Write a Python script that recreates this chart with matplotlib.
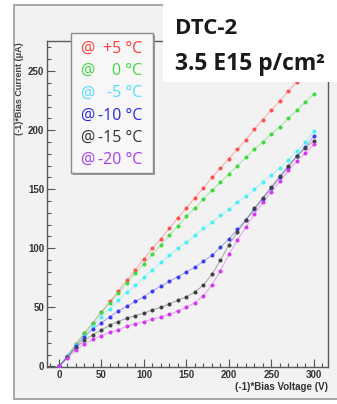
import numpy as np
import matplotlib
matplotlib.use("Agg")
import matplotlib.pyplot as plt
from matplotlib.patches import Rectangle
from matplotlib.ticker import MultipleLocator

# ----------------------------------------------------------------
# Data : (-1)*bias current (uA) vs (-1)*bias voltage (V)
# ----------------------------------------------------------------
voltage = list(range(0, 301, 10))

i_p5 = [0, 9, 19, 28, 37, 46, 55, 64, 73, 82, 91, 100, 108, 117, 126, 134,
        143, 151, 160, 168, 176, 184, 192, 201, 209, 217, 225, 233, 241, 249, 257]
i_0 = [0, 9, 19, 28, 37, 46, 54, 62, 71, 79, 87, 95, 103, 111, 119, 127,
       134, 142, 149, 156, 163, 170, 177, 184, 190, 197, 203, 210, 217, 224, 231]
i_m5 = [0, 9, 18, 26, 34, 42, 49, 56, 63, 69, 76, 82, 88, 94, 100, 105,
        111, 117, 122, 128, 133, 139, 144, 150, 156, 162, 168, 175, 182, 190, 199]
i_m10 = [0, 8, 17, 25, 32, 37, 42, 47, 51, 55, 59, 64, 68, 72, 76, 80,
         84, 89, 94, 101, 108, 116, 124, 133, 142, 151, 160, 169, 178, 186, 195]
i_m15 = [0, 8, 16, 22, 27, 31, 35, 38, 41, 43, 45, 48, 50, 53, 56, 59,
         63, 69, 78, 90, 103, 114, 124, 134, 143, 152, 161, 170, 178, 185, 191]
i_m20 = [0, 7, 14, 19, 23, 26, 29, 31, 34, 36, 38, 40, 42, 44, 47, 50,
         54, 60, 69, 81, 95, 107, 118, 129, 139, 148, 157, 166, 174, 181, 188]

series = [i_p5, i_0, i_m5, i_m10, i_m15, i_m20]
temps = ["+5 °C", "0 °C", "-5 °C", "-10 °C", "-15 °C", "-20 °C"]
line_colors = ["#ff5050", "#40d840", "#48f0f8", "#3c3cf0", "#404040", "#d438f0"]
text_colors = ["#ff3b3b", "#3fd93f", "#55dcff", "#2b2bd8", "#333333", "#a83ee8"]

W, H = 337, 404


def fx(x):
    return x / W


def fy(y):
    return 1 - y / H


fig = plt.figure(figsize=(W / 100, H / 100), dpi=100)
fig.patch.set_facecolor("white")

# outer canvas frame
fig.patches.append(Rectangle((fx(14), fy(399)), fx(345) - fx(14), fy(5) - fy(399),
                             transform=fig.transFigure, facecolor="#f2f2f2",
                             edgecolor="#9a9a9a", lw=1.2, zorder=-5))

ax = fig.add_axes([fx(47), fy(367), fx(328) - fx(47), fy(41) - fy(367)])
ax.set_facecolor("#f2f2f2")

for values, color in zip(series, line_colors):
    ax.plot(voltage, values, color=color, lw=0.7, alpha=0.45, zorder=2)
    ax.plot(voltage, values, ls="none", marker="o", ms=1.9, color=color,
            mec=color, zorder=3)

ax.set_xlim(-14.1, 316.5)
ax.set_ylim(-0.5, 275.5)
ax.xaxis.set_major_locator(MultipleLocator(50))
ax.xaxis.set_minor_locator(MultipleLocator(10))
ax.yaxis.set_major_locator(MultipleLocator(50))
ax.yaxis.set_minor_locator(MultipleLocator(10))
ax.tick_params(which="both", direction="in", color="#555555", width=0.8,
               labelsize=7, labelcolor="#333333", pad=2)
ax.tick_params(which="major", length=6)
ax.tick_params(which="minor", length=3)
for lab in ax.get_xticklabels() + ax.get_yticklabels():
    lab.set_fontweight("bold")
    lab.set_family("Liberation Sans")
for side in ["left", "bottom", "top", "right"]:
    ax.spines[side].set_color("#5a5a5a")
    ax.spines[side].set_linewidth(1.0)

fig.text(fx(328), fy(387), "(-1)*Bias Voltage (V)", ha="right", va="center",
         fontsize=7, fontweight="bold", family="Liberation Sans", color="#333333")
fig.text(fx(20), fy(42), "(-1)*Bias Current (μA)", ha="center", va="top",
         rotation=90, fontsize=6.5, fontweight="bold", family="Liberation Sans",
         color="#444444")

# legend box with shadow
fig.patches.append(Rectangle((fx(73), fy(175)), fx(153) - fx(71), fy(33) - fy(173),
                             transform=fig.transFigure, facecolor="#9a9a9a",
                             edgecolor="none", zorder=4))
fig.patches.append(Rectangle((fx(71), fy(173)), fx(153) - fx(71), fy(33) - fy(173),
                             transform=fig.transFigure, facecolor="#f7f7f7",
                             edgecolor="#8a8a8a", lw=1.0, zorder=5))
for k, (temp, color) in enumerate(zip(temps, text_colors)):
    yc = 49 + k * 22.2
    fig.text(fx(80), fy(yc), "@", ha="left", va="center", fontsize=11.5,
             color=color, family="Open Sans", zorder=6)
    fig.text(fx(142), fy(yc), temp, ha="right", va="center", fontsize=11.5,
             color=color, family="Open Sans", zorder=6)

# title box
fig.patches.append(Rectangle((fx(163), fy(82)), fx(340) - fx(163), fy(0) - fy(82),
                             transform=fig.transFigure, facecolor="white",
                             edgecolor="none", zorder=7))
fig.text(fx(175), fy(29), "DTC-2", ha="left", va="center", fontsize=16,
         fontweight="bold", family="Open Sans", color="#1a1a1a", zorder=8)
fig.text(fx(175), fy(64), "3.5 E15 p/cm²", ha="left", va="center", fontsize=16.5,
         fontweight="bold", family="Open Sans", color="#1a1a1a", zorder=8)

fig.savefig("out.png", dpi=100)
